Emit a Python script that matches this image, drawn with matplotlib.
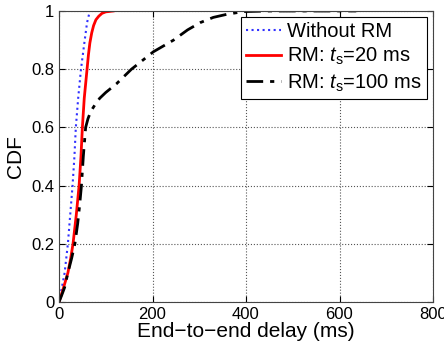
import matplotlib
matplotlib.use('Agg')
import matplotlib.pyplot as plt

plt.rcParams['font.family'] = ['Liberation Sans', 'DejaVu Sans']
plt.rcParams['mathtext.fontset'] = 'custom'
plt.rcParams['mathtext.it'] = 'Liberation Sans:italic'
plt.rcParams['mathtext.rm'] = 'Liberation Sans'

# CDF curves (delay in ms, CDF)
x_norm = [0, 5, 12, 19, 24, 29, 33, 36, 41, 47, 55, 60, 66]
y_norm = [0, 0.04, 0.1, 0.2, 0.3, 0.4, 0.5, 0.6, 0.7, 0.8, 0.9, 0.96, 1.0]

x_rm20 = [0, 8, 19, 25, 30, 37, 43, 47, 50, 54, 57, 60, 63, 66, 70, 74, 79, 85, 92, 100, 116]
y_rm20 = [0, 0.04, 0.1, 0.15, 0.2, 0.3, 0.4, 0.5, 0.6, 0.7, 0.75, 0.8, 0.85, 0.89, 0.925,
          0.95, 0.97, 0.982, 0.992, 0.997, 1.0]

x_rm100 = [0, 5, 12, 19, 27, 34, 40, 44, 48, 52, 57, 62, 68, 77, 87, 100, 123, 155,
           202, 245, 275, 302, 330, 360, 395, 450, 520, 636]
y_rm100 = [0, 0.02, 0.05, 0.1, 0.15, 0.2, 0.27, 0.33, 0.4, 0.5, 0.6, 0.63, 0.655, 0.678,
           0.7, 0.72, 0.75, 0.8, 0.86, 0.9, 0.935, 0.96, 0.978, 0.989, 0.998, 1.0, 1.0, 1.0]

xticks = [0, 200, 400, 600, 800]
yticks = [0, 0.2, 0.4, 0.6, 0.8, 1]
yticklabels = ['0', '0.2', '0.4', '0.6', '0.8', '1']

fig = plt.figure(figsize=(4.44, 3.47), dpi=100)
ax = fig.add_axes([59/444, 1 - 302/347, 374/444, 291/347])

ax.plot(x_norm, y_norm, ':', color='#3030ff', lw=1.5, label='Without RM')
ax.plot(x_rm20, y_rm20, '-', color='red', lw=2, label='RM: $t_\\mathrm{s}$=20 ms')
ax.plot(x_rm100, y_rm100, color='black', lw=2, dashes=(6, 2.5, 1.5, 2.5),
        label='RM: $t_\\mathrm{s}$=100 ms')

ax.set_xlim(0, 800)
ax.set_ylim(0, 1)
ax.set_xticks(xticks)
ax.set_yticks(yticks)
ax.set_yticklabels(yticklabels)
ax.tick_params(direction='in', top=True, right=True, labelsize=12, length=4)
ax.grid(True, linestyle=':', color='#555555', lw=0.8)
for s in ax.spines.values():
    s.set_color('#444444')

ax.set_xlabel('End\u2212to\u2212end delay (ms)', fontsize=15, labelpad=0)
ax.set_ylabel('CDF', fontsize=15, labelpad=4)

leg = ax.legend(loc='upper right', fontsize=14.5, fancybox=False, framealpha=1,
                edgecolor='black', borderpad=0.25, labelspacing=0.25,
                handlelength=1.75, handletextpad=0.3, borderaxespad=0.3)
leg.get_frame().set_linewidth(0.8)

fig.savefig('out.png', dpi=100)
